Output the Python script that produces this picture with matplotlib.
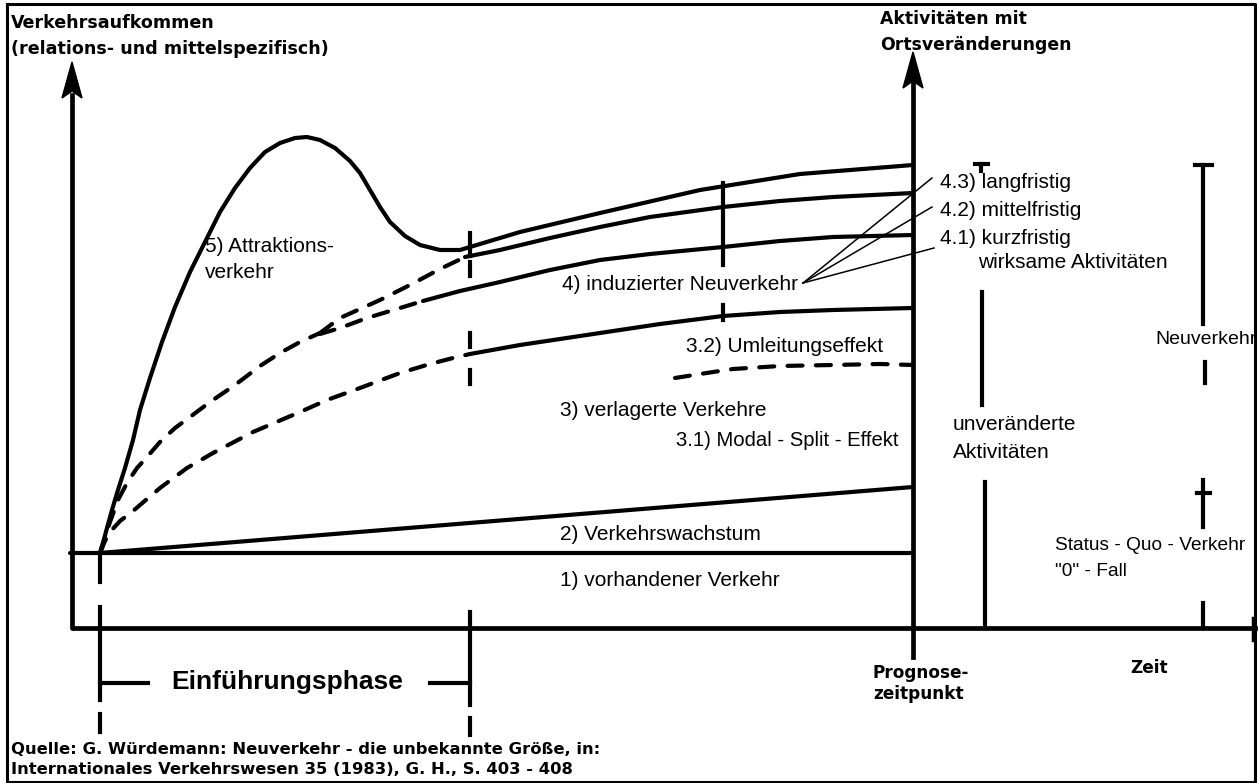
import matplotlib
matplotlib.use("Agg")
import matplotlib.pyplot as plt
from matplotlib import font_manager as fm

# ---------------------------------------------------------------------------
# Curves of the traffic-volume scheme (canvas units, y grows downwards)
# ---------------------------------------------------------------------------
# 1) existing traffic - horizontal base line
base_x = [70, 913]
base_y = [553, 553]

# 2) traffic growth
growth_x = [100, 913]
growth_y = [553, 487]

# 5) attraction traffic, continuing as 4.3) long-term induced traffic
attr_x = [100, 103, 107, 112, 118, 125, 133, 140, 150, 162, 175, 190, 205, 220,
          235, 250, 265, 280, 295, 307, 320, 335, 350, 360, 370, 380, 390, 405,
          420, 440, 460, 480, 520, 600, 700, 800, 913]
attr_y = [553, 543, 528, 510, 490, 468, 440, 410, 378, 342, 307, 272, 242, 212,
          188, 168, 152, 143, 138, 137, 140, 148, 161, 173, 190, 207, 222, 236,
          245, 250, 250, 244, 232, 213, 190, 174, 165]

# shared dashed ramp of the induced traffic (4.1 / 4.2)
ramp_x = [100, 104, 110, 118, 127, 137, 147, 160, 175, 190, 210, 235, 260, 280, 300, 320]
ramp_y = [553, 540, 522, 500, 483, 468, 457, 442, 428, 417, 402, 385, 366, 353, 342, 333]

# dashed branch leading into 4.2)
d42_x = [320, 340, 360, 380, 410, 440, 465]
d42_y = [333, 318, 309, 300, 285, 269, 257]
# 4.2) medium-term
l42_x = [465, 500, 550, 600, 650, 723, 780, 833, 913]
l42_y = [257, 250, 238, 227, 217, 207, 201, 197, 193]

# dashed branch leading into 4.1)
d41_x = [320, 340, 367, 400, 423]
d41_y = [334, 328, 318, 308, 301]
# 4.1) short-term
l41_x = [423, 460, 500, 550, 600, 650, 723, 780, 833, 913]
l41_y = [301, 291, 282, 270, 260, 254, 247, 241, 237, 235]

# 3) shifted traffic: dashed ramp and solid continuation
d3_x = [100, 105, 110, 120, 133, 147, 160, 187, 213, 253, 300, 327, 360, 400, 430, 453, 470]
d3_y = [553, 541, 532, 521, 511, 499, 488, 468, 453, 432, 412, 400, 388, 373, 364, 358, 354]
l3_x = [470, 520, 600, 660, 723, 780, 833, 913]
l3_y = [354, 345, 333, 324, 316, 312, 310, 308]

# 3.1 / 3.2 boundary (dashed)
d32_x = [675, 700, 733, 780, 833, 880, 913]
d32_y = [378, 374, 369, 366, 365, 364, 365]

# text labels (x, y, text, size)
curve_labels = [
    (205, 247, "5) Attraktions-", 15),
    (205, 272, "verkehr", 15),
    (562, 284, "4) induzierter Neuverkehr", 15),
    (686, 347, "3.2) Umleitungseffekt", 15),
    (560, 410, "3) verlagerte Verkehre", 15),
    (676, 441, "3.1) Modal - Split - Effekt", 14.6),
    (560, 535, "2) Verkehrswachstum", 15),
    (560, 580, "1) vorhandener Verkehr", 15),
    (940, 182, "4.3) langfristig", 15),
    (940, 210, "4.2) mittelfristig", 15),
    (940, 238, "4.1) kurzfristig", 15),
    (978, 263, "wirksame Aktivitäten", 15),
    (953, 425, "unveränderte", 15),
    (953, 452, "Aktivitäten", 15),
    (1155, 340, "Neuverkehr", 14),
    (1055, 545, "Status - Quo - Verkehr", 13.8),
    (1055, 572, "\"0\" - Fall", 13.8),
]
bold_labels = [
    (11, 23, "Verkehrsaufkommen", 12.6),
    (11, 49, "(relations- und mittelspezifisch)", 12.6),
    (880, 19, "Aktivitäten mit", 12.4),
    (880, 45, "Ortsveränderungen", 12.4),
    (873, 673, "Prognose-", 12.2),
    (873, 694, "zeitpunkt", 12.2),
    (1130, 668, "Zeit", 12.2),
    (11, 749, "Quelle: G. Würdemann: Neuverkehr - die unbekannte Größe, in:", 11.8),
    (11, 769, "Internationales Verkehrswesen 35 (1983), G. H., S. 403 - 408", 11.8),
]
phase_label = "Einführungsphase"

# leader lines from label 4) to the three induced-traffic lines
leader_from = (803, 283)
leader_to_x = [932, 932, 934]
leader_to_y = [178, 207, 248]

W, H = 1259, 783
fig = plt.figure(figsize=(W / 100, H / 100), dpi=100)
ax = fig.add_axes([0, 0, 1, 1])
ax.set_xlim(0, W)
ax.set_ylim(H, 0)
ax.axis("off")
fig.patch.set_facecolor("white")

names = {f.name for f in fm.fontManager.ttflist}
LABEL_FONT = "Liberation Sans Narrow" if "Liberation Sans Narrow" in names else "Liberation Sans"
LABEL_SCALE = 1.2 if LABEL_FONT == "Liberation Sans Narrow" else 1.0

K = "black"
LW = 3.0
solid = dict(color=K, lw=LW, solid_capstyle="round", solid_joinstyle="round")
dashed = dict(color=K, lw=LW, linestyle=(0, (3.6, 3.2)), dash_capstyle="round")

# frame
ax.plot([7, 1255, 1255, 7, 7], [4, 4, 782, 782, 4], color=K, lw=2.2)

# axes of the scheme
ax.plot([72, 72, 1255], [95, 628, 628], color=K, lw=3.4, solid_joinstyle="round")
ax.plot([913, 913], [657, 80], color=K, lw=3.4)
ax.plot([1253, 1253], [618, 640], color=K, lw=2.5)
for tx, ty in [(72, 62), (913, 52)]:
    ax.fill([tx, tx + 10, tx, tx - 10], [ty, ty + 36, ty + 29, ty + 36],
            color=K, lw=1)

# curves
ax.plot(base_x, base_y, **solid)
ax.plot(growth_x, growth_y, **solid)
ax.plot(attr_x, attr_y, **solid)
ax.plot(ramp_x, ramp_y, **dashed)
ax.plot(d42_x, d42_y, **dashed)
ax.plot(l42_x, l42_y, **solid)
ax.plot(d41_x, d41_y, **dashed)
ax.plot(l41_x, l41_y, **solid)
ax.plot(d3_x, d3_y, **dashed)
ax.plot(l3_x, l3_y, **solid)
ax.plot(d32_x, d32_y, **dashed)

# period markers
vert_marks = [
    (470, 233, 256), (470, 262, 276), (470, 333, 347), (470, 370, 384),
    (470, 612, 705), (470, 718, 735),
    (723, 183, 265), (723, 305, 320),
    (100, 557, 582), (100, 607, 700), (100, 714, 732),
    (982, 292, 405), (985, 482, 628),
    (1203, 165, 324), (1205, 362, 383),
    (1203, 480, 527), (1203, 603, 628),
    (981, 164, 171),
]
for x, y0, y1 in vert_marks:
    ax.plot([x, x], [y0, y1], color=K, lw=3.0)
horiz_marks = [
    (100, 148, 683), (430, 470, 683),
    (1195, 1212, 165), (1197, 1210, 493), (975, 988, 164),
]
for x0, x1, y in horiz_marks:
    ax.plot([x0, x1], [y, y], color=K, lw=3.0)

# leader lines
for lx, ly in zip(leader_to_x, leader_to_y):
    ax.plot([leader_from[0], lx], [leader_from[1], ly], color=K, lw=1.1)

# texts
for x, y, s, size in curve_labels:
    ax.text(x, y, s, family=LABEL_FONT, fontsize=size * LABEL_SCALE,
            ha="left", va="center", color=K)
for x, y, s, size in bold_labels:
    ax.text(x, y, s, family="DejaVu Sans", fontweight="bold", fontsize=size,
            ha="left", va="center", color=K)
ax.text(287, 682, phase_label, family="Liberation Sans", fontweight="bold",
        fontsize=19, ha="center", va="center", color=K)

fig.savefig("out.png", dpi=100, facecolor="white")
